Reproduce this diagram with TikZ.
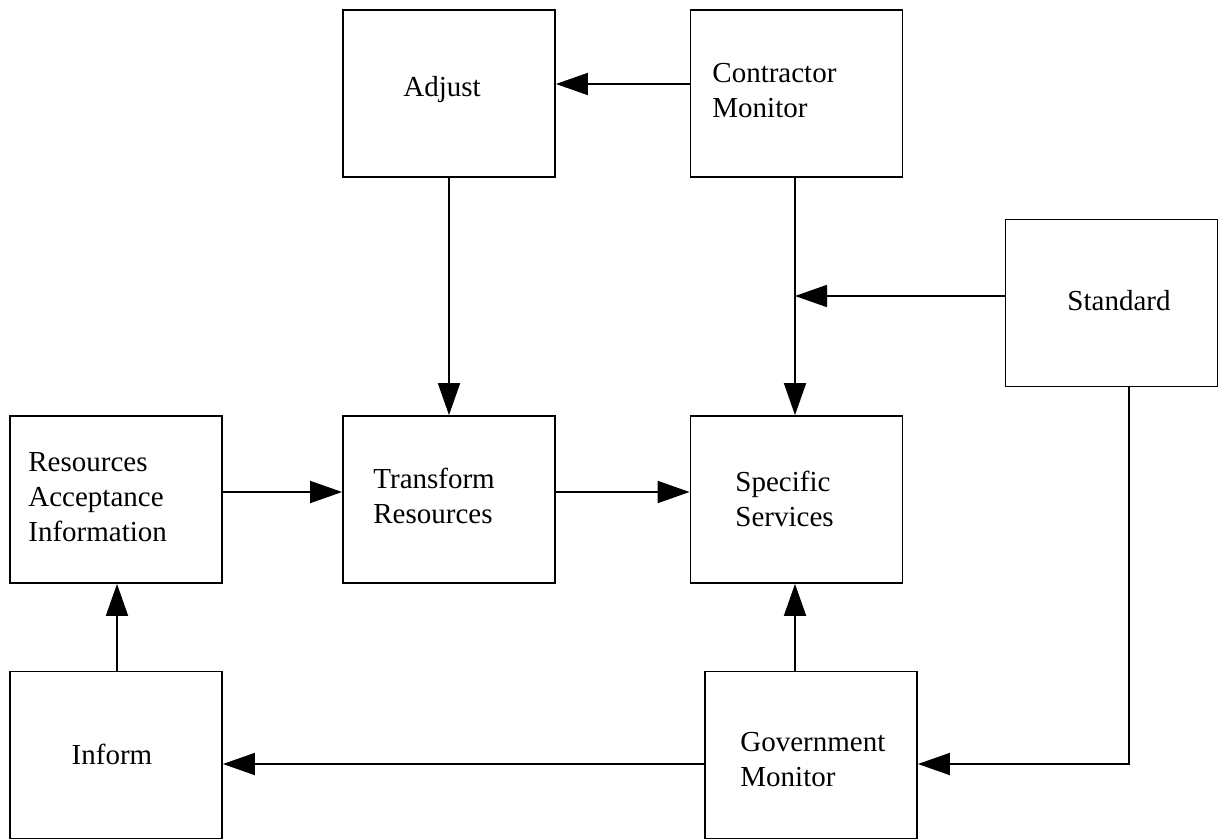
\documentclass[tikz,border=0pt]{standalone}
\usepackage{fontspec}
\setmainfont{Liberation Serif}
\usetikzlibrary{arrows.meta}
\begin{document}
\begin{tikzpicture}[x=0.5pt,y=-0.5pt,
  box/.style={draw,line width=0.9pt,minimum width=106pt,minimum height=83.5pt,inner sep=0pt},
  lbl/.style={align=left,inner sep=0pt,font=\fontsize{14.5}{17.5}\selectfont},
  arr/.style={line width=0.9pt,-{Triangle[length=16pt,width=11pt]}},
  ln/.style={line width=0.9pt}]
\useasboundingbox (0,0) rectangle (1220,840);
% boxes
\node[box] (adj) at (449,93.5) {};
\node[box] (con) at (796.5,93.5) {};
\node[box] (std) at (1111.5,303) {};
\node[box] (rai) at (116,499.5) {};
\node[box] (tr)  at (449,499.5) {};
\node[box] (ss)  at (796.5,499.5) {};
\node[box] (inf) at (116,755) {};
\node[box] (gov) at (811,755) {};
% labels
\node[lbl] (adjt) at (442,90) {Adjust};
\node[lbl,anchor=west] (cont) at (712,91) {Contractor\\Monitor};
\node[lbl] (stdt) at (1119,301) {Standard};
\node[lbl,anchor=west] (rait) at (28,497) {Resources\\Acceptance\\Information};
\node[lbl,anchor=west] (trt) at (373,496) {Transform\\Resources};
\node[lbl,anchor=west] (sst) at (735,499) {Specific\\Services};
\node[lbl] (inft) at (112,754) {Inform};
\node[lbl,anchor=west] (govt) at (740,760) {Government\\Monitor};
% connectors
\draw[arr] (con.west |- 0,84) -- (adj.east |- 0,84);
\draw[arr] (adj.south) -- (tr.north);
\draw[arr] (con.south -| 795,0) -- (ss.north -| 795,0);
\coordinate (join) at (795,296);
\draw[arr] (std.west |- join) -- (join);
\draw[arr] (rai.east |- 0,492) -- (tr.west |- 0,492);
\draw[arr] (tr.east |- 0,492) -- (ss.west |- 0,492);
\draw[arr] (gov.north -| 795,0) -- (ss.south -| 795,0);
\draw[arr] (gov.west |- 0,764) -- (inf.east |- 0,764);
\draw[arr] (inf.north -| 117,0) -- (rai.south -| 117,0);
\draw[arr] (std.south -| 1129,0) -- (1129,764) -- (gov.east |- 0,764);
\end{tikzpicture}
\end{document}
